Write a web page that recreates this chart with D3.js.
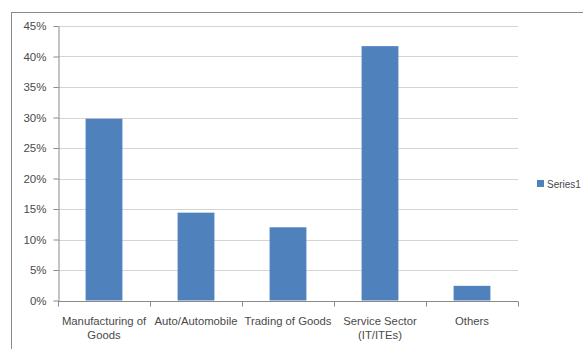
<!DOCTYPE html>
<html><head><meta charset="utf-8">
<script src="https://cdn.jsdelivr.net/npm/d3@7"></script>
<style>body{margin:0;background:#fff}svg{display:block}text{font-family:"Liberation Sans",Arial,sans-serif}</style>
</head><body><div id="chart"></div>
<script>
const categories = [["Manufacturing of","Goods"],["Auto/Automobile"],["Trading of Goods"],["Service Sector","(IT/ITEs)"],["Others"]];
const values = [0.298, 0.144, 0.120, 0.417, 0.024];
const yTicks = [0,0.05,0.10,0.15,0.20,0.25,0.30,0.35,0.40,0.45];
const seriesName = "Series1";

(function(){
const W = 583, H = 349;
const svg = d3.select("#chart").append("svg").attr("width", W).attr("height", H);
svg.append("rect").attr("x", 11.5).attr("y", 12.5).attr("width", 700).attr("height", 500)
  .attr("fill", "none").attr("stroke", "#8a8a8a").attr("stroke-width", 1);

const pL = 58, pR = 518, pT = 26, pB = 300.5;
const keys = categories.map((c,i)=>i);
const x = d3.scaleBand().domain(keys).range([pL, pR]).paddingInner(0.6).paddingOuter(0.3);
const xb = d3.scaleBand().domain(keys).range([pL, pR]);
const y = d3.scaleLinear().domain([0, 0.45]).range([pB, pT]);

svg.append("g").selectAll("line").data(yTicks.filter(d=>d>0)).join("line")
  .attr("x1", pL).attr("x2", pR)
  .attr("y1", d=>Math.round(y(d))+0.5).attr("y2", d=>Math.round(y(d))+0.5)
  .attr("stroke", "#d4d4d4").attr("stroke-width", 1);

svg.append("g").selectAll("rect").data(values).join("rect")
  .attr("x", (d,i)=>x(i)).attr("width", x.bandwidth())
  .attr("y", d=>y(d)).attr("height", d=>pB - y(d))
  .attr("fill", "#4F81BD");

const yAxis = d3.axisLeft(y).tickValues(yTicks).tickFormat(d3.format(".0%")).tickSize(5).tickSizeOuter(0);
const ya = svg.append("g").attr("transform", `translate(${pL+0.5},0)`).call(yAxis);
ya.attr("font-family", null);
ya.select(".domain").attr("stroke", "#8a8a8a");
ya.selectAll(".tick line").attr("stroke", "#8a8a8a");
ya.selectAll(".tick text").attr("fill", "#4a4a4a").attr("font-size", 11.5).attr("x", -12);

const xa = svg.append("g").attr("transform", `translate(0,${Math.round(pB)+0.5})`);
xa.append("line").attr("x1", pL).attr("x2", pR).attr("stroke", "#8a8a8a");
xa.selectAll("line.tk").data(keys.concat([keys.length])).join("line").attr("class","tk")
  .attr("x1", d=> (d<keys.length? xb(d): pR)+0.5).attr("x2", d=> (d<keys.length? xb(d): pR)+0.5)
  .attr("y1", 0).attr("y2", 5).attr("stroke", "#8a8a8a");
const lbl = xa.selectAll("text").data(categories).join("text")
  .attr("text-anchor", "middle").attr("fill", "#4a4a4a").attr("font-size", 11.3)
  .attr("transform", (d,i)=>`translate(${xb(i)+xb.bandwidth()/2},23)`);
lbl.selectAll("tspan").data(d=>d).join("tspan")
  .attr("x", 0).attr("dy", (d,j)=> j===0 ? 0 : 14).text(d=>d);

const lg = svg.append("g").attr("transform", "translate(537,180)");
lg.append("rect").attr("width", 7).attr("height", 7).attr("fill", "#4F81BD");
lg.append("text").attr("x", 10).attr("y", 7.5).attr("font-size", 10).attr("fill", "#4a4a4a").text(seriesName);
})();
</script></body></html>
